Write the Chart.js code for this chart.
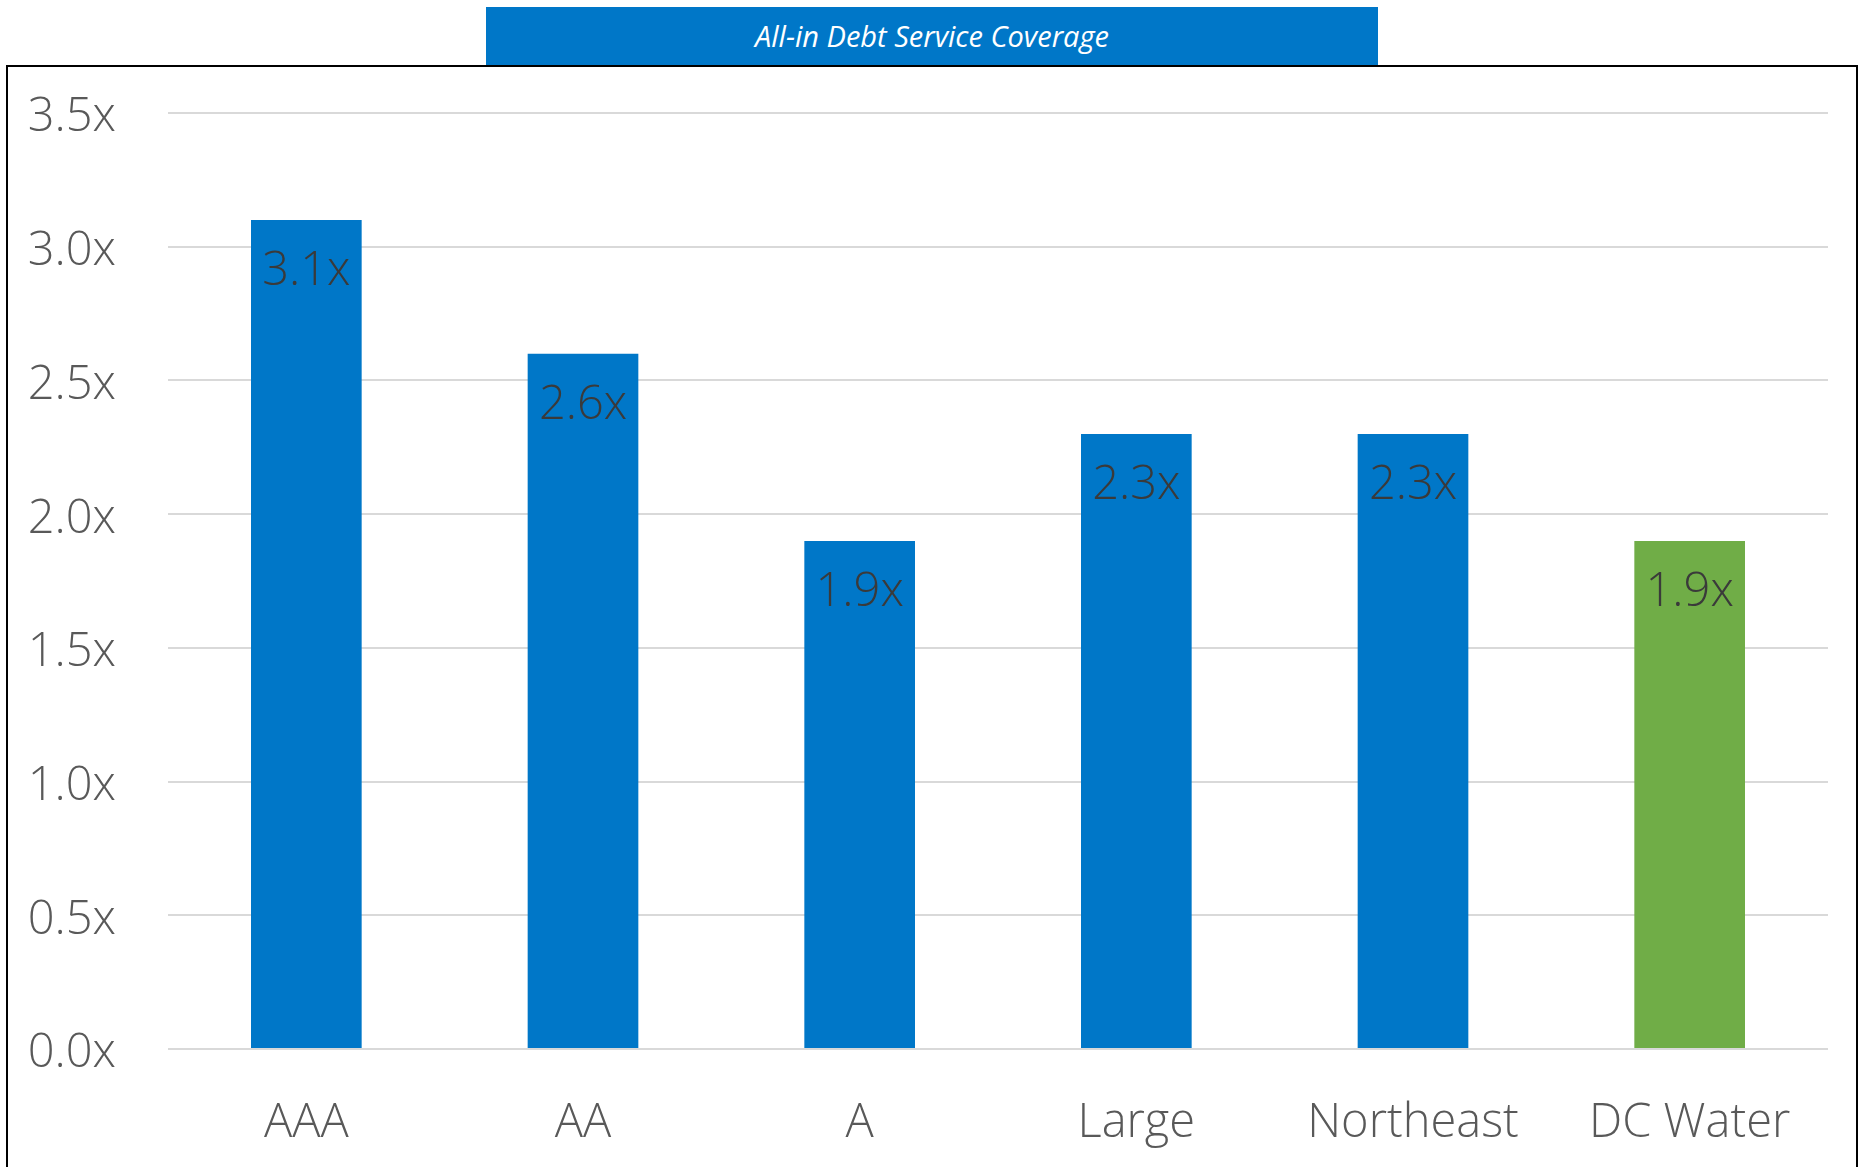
<!DOCTYPE html>
<html>
<head>
<meta charset="utf-8">
<script src="https://cdn.jsdelivr.net/npm/chart.js@4.4.1/dist/chart.umd.min.js"></script>
<style>
  html, body { margin: 0; padding: 0; background: #fff; overflow: hidden; }
  #wrap { position: relative; width: 1860px; height: 1167px; }
  #frame {
    position: absolute; left: 6px; top: 65px; width: 1852px; height: 1200px;
    border: 2px solid #000; box-sizing: border-box;
  }
  #title {
    position: absolute; left: 486px; top: 7px; width: 892px; height: 58px;
    background: #0077c8; color: #fff; font-family: "Open Sans", sans-serif;
    font-style: italic; font-size: 29px; line-height: 58px; text-align: center;
  }
  canvas { position: absolute; left: 0; top: 0; }
</style>
</head>
<body>
<div id="wrap">
  <div id="frame"></div>
  <div id="title">All-in Debt Service Coverage</div>
  <canvas id="chart" width="1860" height="1167"></canvas>
</div>
<script>
var categories = ["AAA", "AA", "A", "Large", "Northeast", "DC Water"];
var coverage = [3.1, 2.6, 1.9, 2.3, 2.3, 1.9];
var barColors = ["#0077c8", "#0077c8", "#0077c8", "#0077c8", "#0077c8", "#70ad47"];
var tickValues = [0, 0.5, 1.0, 1.5, 2.0, 2.5, 3.0, 3.5];

var labelFont = "300 47px 'Open Sans'";

// value labels just inside the top of each bar
var barLabels = {
  id: "barLabels",
  afterDatasetsDraw: function(chart) {
    var ctx = chart.ctx;
    var meta = chart.getDatasetMeta(0);
    ctx.save();
    ctx.font = labelFont;
    ctx.fillStyle = "#3a3a3a";
    ctx.textAlign = "center";
    ctx.textBaseline = "alphabetic";
    meta.data.forEach(function(bar, i) {
      ctx.fillText(coverage[i].toFixed(1) + "x", bar.x, bar.y + 65);
    });
    ctx.restore();
  }
};

var ctx = document.getElementById("chart");

var myChart = new Chart(ctx, {
  type: "bar",
  data: {
    labels: categories,
    datasets: [{
      data: coverage,
      backgroundColor: barColors,
      borderWidth: 0,
      categoryPercentage: 1.0,
      barPercentage: 0.4
    }]
  },
  plugins: [barLabels],
  options: {
    responsive: false,
    animation: false,
    events: [],
    layout: { padding: { left: 0, right: 32, top: 113, bottom: 0 } },
    plugins: {
      legend: { display: false },
      tooltip: { enabled: false }
    },
    scales: {
      x: {
        grid: { display: false, drawTicks: false },
        border: { display: false },
        ticks: {
          color: "#595959",
          font: { family: "'Open Sans'", size: 47, weight: 300 },
          padding: 46,
          maxRotation: 0,
          autoSkip: false
        },
        afterFit: function(scale) { scale.height = 118; }
      },
      y: {
        min: 0,
        max: 3.5,
        afterBuildTicks: function(scale) {
          scale.ticks = tickValues.map(function(v) { return { value: v }; });
        },
        grid: { color: "#d9d9d9", lineWidth: 2, drawTicks: false },
        border: { display: false },
        ticks: {
          color: "#595959",
          font: { family: "'Open Sans'", size: 47, weight: 300 },
          padding: 52,
          labelOffset: 5,
          callback: function(v) { return Number(v).toFixed(1) + "x"; }
        },
        afterFit: function(scale) { scale.width = 168; }
      }
    }
  }
});
</script>
</body>
</html>
